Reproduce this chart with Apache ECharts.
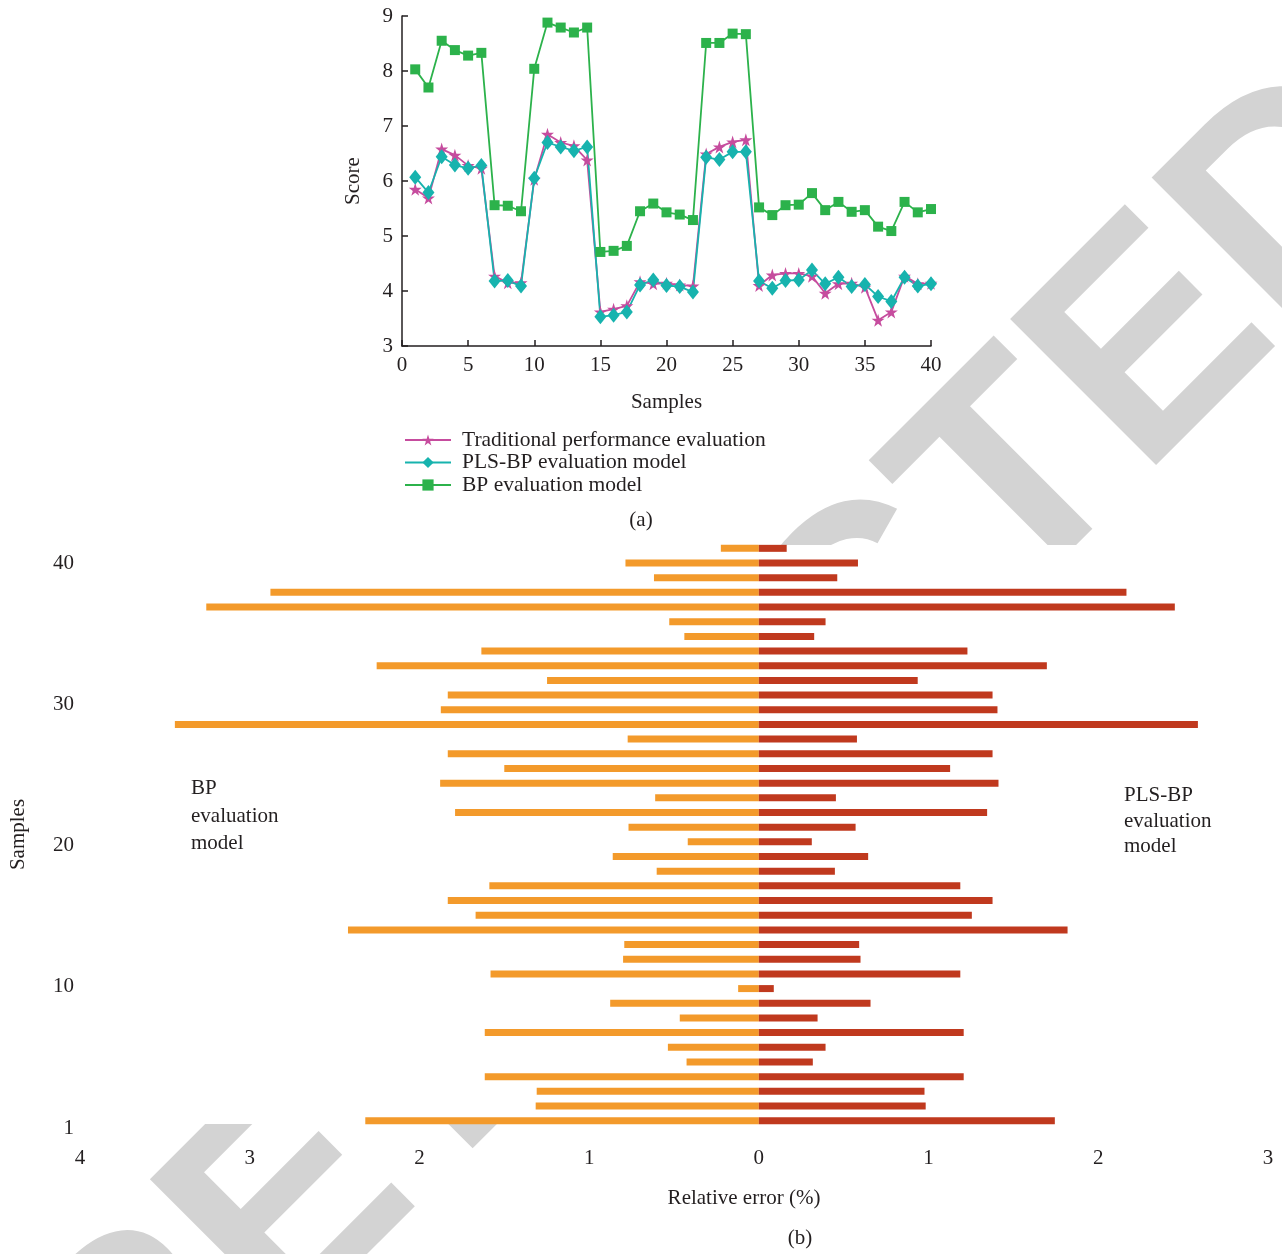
<!DOCTYPE html>
<html>
<head>
<meta charset="utf-8">
<script src="https://cdn.jsdelivr.net/npm/echarts@6/dist/echarts.min.js"></script>
<style>
html,body{margin:0;padding:0;background:#fff;}
#chart{width:1282px;height:1254px;}
</style>
</head>
<body>
<div id="chart"></div>
<script>
// ---------- (a) scores ----------
const samples = [1,2,3,4,5,6,7,8,9,10,11,12,13,14,15,16,17,18,19,20,21,22,23,24,25,26,27,28,29,30,31,32,33,34,35,36,37,38,39,40];
const traditional = [5.85,5.69,6.58,6.47,6.28,6.23,4.27,4.15,4.15,6.03,6.85,6.70,6.64,6.38,3.62,3.67,3.73,4.17,4.13,4.14,4.11,4.09,6.49,6.62,6.71,6.75,4.10,4.29,4.32,4.32,4.27,3.96,4.13,4.14,4.07,3.47,3.62,4.27,4.13,4.14];
const plsbp = [6.07,5.79,6.44,6.29,6.23,6.28,4.18,4.19,4.09,6.05,6.70,6.62,6.55,6.62,3.53,3.56,3.62,4.11,4.20,4.10,4.08,3.98,6.43,6.39,6.53,6.53,4.18,4.05,4.19,4.20,4.38,4.13,4.25,4.08,4.12,3.90,3.81,4.25,4.09,4.13];
const bp = [8.03,7.70,8.55,8.38,8.28,8.33,5.56,5.55,5.45,8.04,8.88,8.79,8.70,8.79,4.71,4.73,4.82,5.45,5.59,5.43,5.39,5.29,8.51,8.51,8.68,8.67,5.52,5.38,5.56,5.57,5.78,5.47,5.62,5.44,5.47,5.17,5.09,5.62,5.43,5.49];
const seriesNames = ['Traditional performance evaluation','PLS-BP evaluation model','BP evaluation model'];

// ---------- (b) relative errors (%) ----------
const errBP  = [2.319,1.315,1.309,1.615,0.426,0.536,1.615,0.466,0.876,0.122,1.581,0.800,0.793,2.421,1.669,1.833,1.588,0.602,0.861,0.419,0.768,1.790,0.611,1.878,1.500,1.833,0.773,3.441,1.874,1.833,1.248,2.252,1.635,0.439,0.528,3.256,2.878,0.618,0.786,0.224];
const errPLS = [1.744,0.983,0.976,1.207,0.318,0.393,1.207,0.346,0.658,0.088,1.187,0.599,0.591,1.819,1.255,1.377,1.187,0.448,0.644,0.312,0.570,1.345,0.454,1.412,1.127,1.377,0.578,2.587,1.406,1.377,0.936,1.697,1.229,0.326,0.393,2.451,2.166,0.462,0.584,0.164];
const errTickValues = [-4,-3,-2,-1,0,1,2,3];
const errTickLabels = ['4','3','2','1','0','1','2','3'];
const sampleTickValues = [0,10,20,30,40];
const sampleTickLabels = ['1','10','20','30','40'];

const FONT = '"Liberation Serif", "Times New Roman", serif';
const TXT = '#231f20';
const colTrad = '#c64c9e', colPls = '#17b3ae', colBp = '#2cb24b';
const colLeft = '#f39a2b', colRight = '#c0391e';
const starPath = 'path://M50,0 L61,35 L98,35 L68,57 L79,91 L50,70 L21,91 L32,57 L2,35 L39,35 Z';

const chart = echarts.init(document.getElementById('chart'), null, {renderer:'canvas'});
const pair = arr => arr.map((v,i)=>[samples[i], v]);

const option = {
  animation: false,
  backgroundColor: '#fff',
  textStyle: {fontFamily: FONT, color: TXT},
  grid: [
    {left: 402, top: 16, width: 529, height: 330},
    {left: 78, top: 541, width: 1190, height: 587}
  ],
  legend: {
    data: seriesNames,
    orient: 'vertical',
    left: 399, top: 424,
    itemWidth: 46, itemHeight: 14, itemGap: 0.5,
    textStyle: {fontFamily: FONT, fontSize: 21.5, color: TXT, padding: [0,0,0,6]}
  },
  xAxis: [
    {gridIndex: 0, type: 'value', min: 0, max: 40, interval: 5,
     axisLine: {lineStyle: {color: TXT, width: 1.5}},
     axisTick: {inside: true, length: 6, lineStyle: {color: TXT, width: 1.5}},
     splitLine: {show: false},
     axisLabel: {color: TXT, fontFamily: FONT, fontSize: 21, margin: 9},
     name: 'Samples', nameLocation: 'middle', nameGap: 46,
     nameTextStyle: {color: TXT, fontFamily: FONT, fontSize: 21}},
    {gridIndex: 1, type: 'value', min: -4, max: 3, interval: 1,
     axisLine: {show: false}, axisTick: {show: false}, splitLine: {show: false},
     axisLabel: {color: TXT, fontFamily: FONT, fontSize: 21, margin: 20,
       formatter: v => errTickLabels[errTickValues.indexOf(Math.round(v))]},
     name: 'Relative error (%)', nameLocation: 'middle', nameGap: 60,
     nameTextStyle: {color: TXT, fontFamily: FONT, fontSize: 21, padding: [0,0,0,140]}}
  ],
  yAxis: [
    {gridIndex: 0, type: 'value', min: 3, max: 9, interval: 1,
     axisLine: {show: true, lineStyle: {color: TXT, width: 1.5}},
     axisTick: {show: true, inside: true, length: 6, lineStyle: {color: TXT, width: 1.5}},
     splitLine: {show: false},
     axisLabel: {color: TXT, fontFamily: FONT, fontSize: 21, margin: 9},
     name: 'Score', nameLocation: 'middle', nameGap: 38, nameRotate: 90,
     nameTextStyle: {color: TXT, fontFamily: FONT, fontSize: 21}},
    {gridIndex: 1, type: 'category', data: samples.map(String),
     axisLine: {show: false}, axisTick: {show: false}, axisLabel: {show: false}, splitLine: {show: false}},
    {gridIndex: 1, type: 'value', min: 0, max: 41.6, interval: 10, position: 'left',
     axisLine: {show: false}, axisTick: {show: false}, splitLine: {show: false},
     axisLabel: {color: TXT, fontFamily: FONT, fontSize: 21, margin: 6, showMaxLabel: false,
       formatter: v => sampleTickLabels[sampleTickValues.indexOf(Math.round(v))]},
     name: 'Samples', nameLocation: 'middle', nameGap: 51, nameRotate: 90,
     nameTextStyle: {color: TXT, fontFamily: FONT, fontSize: 21}}
  ],
  series: [
    {name: seriesNames[0], type: 'line', xAxisIndex: 0, yAxisIndex: 0, data: pair(traditional),
     symbol: starPath, symbolSize: 13, color: colTrad, lineStyle: {width: 1.8, color: colTrad},
     itemStyle: {color: colTrad}},
    {name: seriesNames[1], type: 'line', xAxisIndex: 0, yAxisIndex: 0, data: pair(plsbp),
     symbol: 'diamond', symbolSize: [12, 15], color: colPls, lineStyle: {width: 1.8, color: colPls},
     itemStyle: {color: colPls}},
    {name: seriesNames[2], type: 'line', xAxisIndex: 0, yAxisIndex: 0, data: pair(bp),
     symbol: 'rect', symbolSize: 10, color: colBp, lineStyle: {width: 1.8, color: colBp},
     itemStyle: {color: colBp}},
    {name: 'BP relative error', type: 'bar', xAxisIndex: 1, yAxisIndex: 1,
     data: errBP.map(v => -v), barWidth: 7, barGap: '-100%', itemStyle: {color: colLeft}},
    {name: 'PLS-BP relative error', type: 'bar', xAxisIndex: 1, yAxisIndex: 1,
     data: errPLS, barWidth: 7, barGap: '-100%', itemStyle: {color: colRight}}
  ],
  graphic: {elements: [
    {type: 'text', x: 724, y: 780, rotation: Math.PI/4, z: -20, silent: true,
     style: {text: 'RETRACTED', font: 'bold 300px "Liberation Sans", Arial, sans-serif',
             fill: '#d3d3d3', textAlign: 'center', textVerticalAlign: 'middle'}},
    {type: 'rect', shape: {x: 0, y: 545, width: 1282, height: 579}, z: -10, silent: true,
     style: {fill: '#fff'}},
    {type: 'text', x: 641, y: 520, z: 50,
     style: {text: '(a)', font: '21px ' + FONT, fill: TXT, textAlign: 'center', textVerticalAlign: 'middle'}},
    {type: 'text', x: 800, y: 1238, z: 50,
     style: {text: '(b)', font: '21px ' + FONT, fill: TXT, textAlign: 'center', textVerticalAlign: 'middle'}},
    {type: 'text', x: 191, y: 775, z: 50,
     style: {text: 'BP\nevaluation\nmodel', font: '21px ' + FONT, fill: TXT, lineHeight: 27.5, textAlign: 'left', textVerticalAlign: 'top'}},
    {type: 'text', x: 1124, y: 783, z: 50,
     style: {text: 'PLS-BP\nevaluation\nmodel', font: '21px ' + FONT, fill: TXT, lineHeight: 25.5, textAlign: 'left', textVerticalAlign: 'top'}}
  ]}
};
chart.setOption(option);
</script>
</body>
</html>
